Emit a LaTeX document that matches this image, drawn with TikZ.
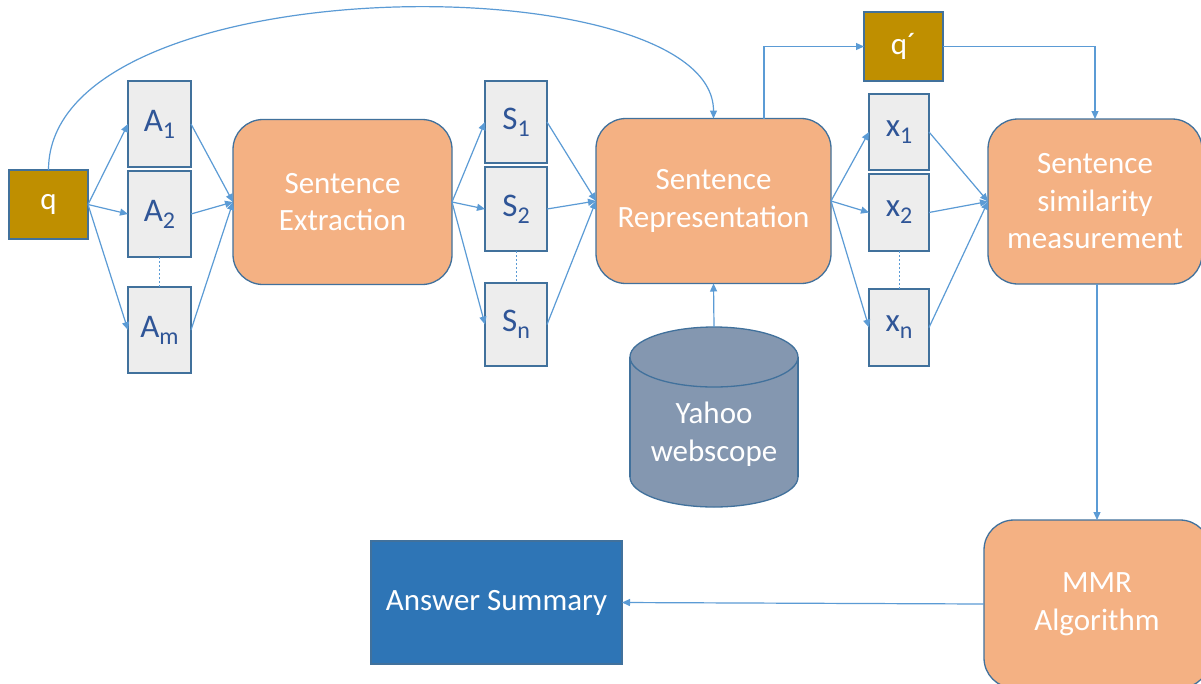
\documentclass[tikz,border=0pt]{standalone}
\usepackage{fontspec}
\setmainfont{Carlito}
\usetikzlibrary{arrows.meta,calc}
\definecolor{lineblue}{HTML}{5B9BD5}
\definecolor{bord}{HTML}{41719C}
\definecolor{gold}{HTML}{BF8F00}
\definecolor{peach}{HTML}{F4B183}
\definecolor{boxgray}{HTML}{EDEDED}
\definecolor{lbl}{HTML}{2F5597}
\definecolor{cylfill}{HTML}{8497B0}
\definecolor{asblue}{HTML}{2E75B6}
\newcommand\subx[1]{\raisebox{-7pt}{\fontsize{24}{24}\selectfont #1}}
\begin{document}
\begin{tikzpicture}[x=1pt,y=-1pt,font=\fontsize{31}{37.5}\selectfont,
  base/.style={draw=bord,line width=1.3pt,inner sep=0pt,outer sep=0pt,align=center,rectangle},
  qbox/.style={base,fill=gold,text=white,minimum width=79pt,minimum height=69pt},
  ibox/.style={base,fill=boxgray,text=lbl,font=\fontsize{33}{38}\selectfont},
  proc/.style={base,fill=peach,text=white,rounded corners=30pt},
  conn/.style={draw=lineblue,line width=1.2pt,-{Triangle[length=8pt,width=7pt]}},
  dots/.style={draw=lineblue,line width=1pt,dash pattern=on 2pt off 2pt}]
\useasboundingbox[fill=white] (0,0) rectangle (1201,683);

% nodes
\node[qbox] (q) at (48.5,204.5) {q};
\node[ibox,minimum width=63pt,minimum height=86pt] (A1) at (159.5,124) {A\subx{1}};
\node[ibox,minimum width=63pt,minimum height=86pt] (A2) at (159.5,214) {A\subx{2}};
\node[ibox,minimum width=63pt,minimum height=86pt] (Am) at (159.5,330) {A\subx{m}};
\node[proc,minimum width=219pt,minimum height=165pt] (SE) at (342.5,202) {Sentence\\Extraction};
\node[ibox,minimum width=62pt,minimum height=82pt] (S1) at (516,122) {S\subx{1}};
\node[ibox,minimum width=62pt,minimum height=84pt] (S2) at (516,209) {S\subx{2}};
\node[ibox,minimum width=62pt,minimum height=83pt] (Sn) at (516,324.5) {S\subx{n}};
\node[proc,minimum width=235pt,minimum height=165pt] (SR) at (713.5,201) {Sentence\\Representation};
\node[qbox] (qp) at (903.5,46.5) {q´};
\node[ibox,minimum width=60pt,minimum height=76pt] (x1) at (899,132) {x\subx{1}};
\node[ibox,minimum width=60pt,minimum height=77pt] (x2) at (899,212.5) {x\subx{2}};
\node[ibox,minimum width=60pt,minimum height=77pt] (xn) at (899,327.5) {x\subx{n}};
\node[proc,minimum width=214pt,minimum height=165pt] (SSM) at (1095,201.5) {Sentence\\similarity\\measurement};
\node[proc,minimum width=226pt,minimum height=168pt] (MMR) at (1097,604) {MMR\\Algorithm};
\node[base,fill=asblue,text=white,minimum width=251pt,minimum height=123pt] (AS) at (496.5,602.5) {Answer Summary};

% cylinder
\filldraw[fill=cylfill,draw=bord,line width=1.3pt] (714,477) ellipse[x radius=84,y radius=30];
\fill[cylfill] (630,357) rectangle (798,477);
\draw[bord,line width=1.3pt] (630,357) -- (630,477) (798,357) -- (798,477);
\filldraw[fill=cylfill,draw=bord,line width=1.3pt] (714,357) ellipse[x radius=84,y radius=30];
\node[text=white,align=center] (yahoo) at (714,434) {Yahoo\\webscope};
\coordinate (cyltop) at (714,327);

% dotted separators
\draw[dots] (A2.south) -- (Am.north);
\draw[dots] (S2.south) -- (Sn.north);
\draw[dots] (x2.south) -- (xn.north);

% connectors
\foreach \t in {A1,A2,Am} {
  \draw[conn] (q.east) -- (\t.west);
  \draw[conn] (\t.east) -- (SE.west);
}
\foreach \t in {S1,S2,Sn} {
  \draw[conn] (SE.east) -- (\t.west);
  \draw[conn] (\t.east) -- (SR.west);
}
\foreach \t in {x1,x2,xn} {
  \draw[conn] (SR.east) -- (\t.west);
  \draw[conn] (\t.east) -- (SSM.west);
}
\draw[conn] (q.north) .. controls ($(q.north)+(0,-207)$) and ($(SR.north)+(0,-155)$) .. (SR.north);
\draw[conn] ($(SR.north)+(50.5,0)$) |- (qp.west);
\draw[conn] (qp.east) -| (SSM.north);
\draw[conn] (SSM.south -| MMR.north) -- (MMR.north);
\draw[conn] (MMR.west) -- (AS.east);
\draw[conn] (cyltop) -- (SR.south);
\end{tikzpicture}
\end{document}
